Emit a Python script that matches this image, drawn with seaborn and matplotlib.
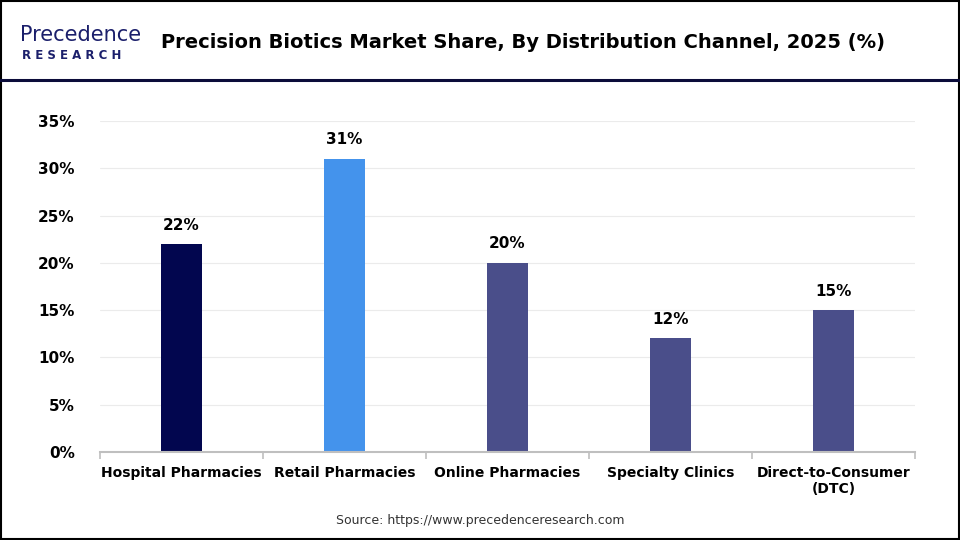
import pandas as pd
import numpy as np
import matplotlib.pyplot as plt
import seaborn as sns

channels = ['Hospital Pharmacies', 'Retail Pharmacies', 'Online Pharmacies',
            'Specialty Clinics', 'Direct-to-Consumer\n(DTC)']
share = [22, 31, 20, 12, 15]
bar_colors = ['#02064f', '#4493ec', '#4a4e8a', '#4a4e8a', '#4a4e8a']
yticks = [0, 5, 10, 15, 20, 25, 30, 35]

df = pd.DataFrame({'channel': channels, 'share': share})

sns.set_style('white')
plt.rcParams['font.family'] = ['DejaVu Sans']
plt.rcParams['text.color'] = 'black'
plt.rcParams['xtick.color'] = 'black'
plt.rcParams['ytick.color'] = 'black'

fig = plt.figure(figsize=(9.6, 5.4), dpi=100)
ax = fig.add_axes([0.104, 0.163, 0.849, 0.613])

sns.barplot(data=df, x='channel', y='share', hue='channel', palette=bar_colors,
            width=0.25, legend=False, saturation=1, linewidth=0, ax=ax)

for i, v in enumerate(share):
    ax.text(i, v + 1.2, f'{v}%', ha='center', va='bottom', fontsize=11, fontweight='bold')

ax.set_ylim(0, 35)
ax.set_xlim(-0.5, 4.5)
ax.set_yticks(yticks)
ax.set_yticklabels([f'{t}%' for t in yticks], fontsize=11, fontweight='bold')
ax.tick_params(axis='y', length=0, pad=18)
ax.set_xticks(range(len(channels)))
ax.set_xticklabels(channels, fontsize=10, fontweight='bold')
ax.tick_params(axis='x', which='major', length=0, pad=10)
ax.set_xticks(np.arange(-0.5, 5, 1), minor=True)
ax.tick_params(axis='x', which='minor', bottom=True, length=5, color='#bfbfbf', width=1.2)
ax.set_xlabel('')
ax.set_ylabel('')
ax.grid(axis='y', color='#ebebeb', linewidth=0.8)
ax.set_axisbelow(True)
for s in ['left', 'right', 'top']:
    ax.spines[s].set_visible(False)
ax.spines['bottom'].set_color('#bfbfbf')
ax.spines['bottom'].set_linewidth(1.5)

# header
fig.text(0.545, 0.922, 'Precision Biotics Market Share, By Distribution Channel, 2025 (%)',
         ha='center', va='center', fontsize=14, fontweight='bold', color='black')
fig.text(0.021, 0.935, 'Precedence', ha='left', va='center', fontsize=15,
         color='#1b1f6b')
fig.text(0.023, 0.897, 'R E S E A R C H', ha='left', va='center', fontsize=8.5,
         color='#1b1f6b', fontweight='bold')
fig.add_artist(plt.Line2D([0, 1], [0.852, 0.852], color='#0b0c3a', linewidth=2.2))
fig.add_artist(plt.Rectangle((0.001, 0.002), 0.998, 0.996, fill=False,
                             edgecolor='black', linewidth=1.5))

fig.text(0.5, 0.037, 'Source: https://www.precedenceresearch.com', ha='center',
         va='center', fontsize=9, color='#333333')

plt.savefig('out.png', dpi=100)
